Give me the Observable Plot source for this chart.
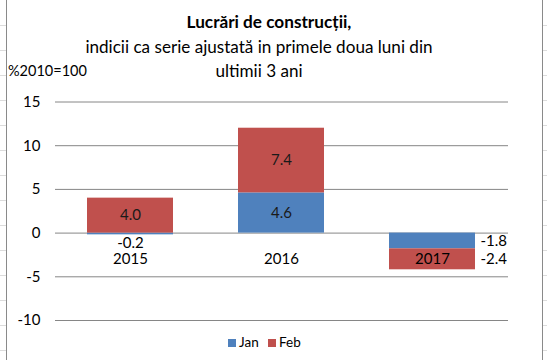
<!DOCTYPE html>
<html><head><meta charset="utf-8">
<script src="https://cdn.jsdelivr.net/npm/d3@7"></script>
<script src="https://cdn.jsdelivr.net/npm/@observablehq/plot@0.6"></script>
<style>
body{margin:0;background:#fff;}
#wrap{position:relative;width:547px;height:360px;overflow:hidden;font-family:Lato,"Open Sans",sans-serif;color:#000;
 background-image:repeating-linear-gradient(to bottom,transparent 0,transparent 24px,#dcdcdc 24px,#dcdcdc 25px);background-position:0 1px;}
#frame{position:absolute;left:6px;top:-5px;width:535px;height:375px;border:1px solid #8a8a8a;background:#fff;}
.t{position:absolute;left:0;width:518px;text-align:center;white-space:nowrap;}
#t1{top:11px;left:10px;font-weight:bold;font-size:17.2px;}
#t2{top:36px;font-size:17.1px;}
#t3{top:60px;font-size:17.1px;}
#unit{position:absolute;left:8px;top:62px;font-size:14.5px;}
#chart{position:absolute;left:0;top:88px;}
#legend{position:absolute;top:334px;left:0;width:547px;font-size:13.5px;}
.li{position:absolute;top:0;white-space:nowrap;}
.sw{display:inline-block;width:8px;height:8px;margin-right:3px;vertical-align:0px;}
</style></head>
<body><div id="wrap"><div id="frame"></div>
<div class="t" id="t1">Lucrări de construcții,</div>
<div class="t" id="t2">indicii ca serie ajustată in primele doua luni din</div>
<div class="t" id="t3">ultimii 3 ani</div>
<div id="unit">%2010=100</div>
<div id="chart"></div>
<div id="legend"></div>
</div>
<script>
const years = ["2015", "2016", "2017"];
const months = ["Jan", "Feb"];
const janValues = [-0.2, 4.6, -1.8];
const febValues = [4.0, 7.4, -2.4];
const yTicks = [-10, -5, 0, 5, 10, 15];
const colors = ["#4F81BD", "#C0504D"];

const data = [];
years.forEach((yr, i) => {
  data.push({year: yr, month: "Jan", value: janValues[i]});
  data.push({year: yr, month: "Feb", value: febValues[i]});
});
const fmt = v => v.toFixed(1);
const inside = d => Math.abs(d.value) >= 3;
const small = d => Math.abs(d.value) < 1;
const right = d => !inside(d) && !small(d);

const stackOpts = {x: "year", y: "value", z: "month", order: null};

const chart = Plot.plot({
  width: 547,
  height: 242,
  marginTop: 13.5,
  marginBottom: 10,
  marginLeft: 55,
  marginRight: 39,
  style: {fontFamily: "Lato, sans-serif", fontSize: "15px", color: "#000", background: "transparent"},
  x: {domain: years, paddingInner: 0.43, paddingOuter: 0.215, axis: null},
  y: {domain: [-10, 15], axis: null},
  color: {domain: months, range: colors},
  marks: [
    Plot.ruleY(yTicks, {stroke: "#868686", strokeWidth: 1}),
    Plot.axisY({ticks: yTicks, tickSize: 0, tickPadding: 15, label: null, fontSize: 15, tickFormat: d => String(d)}),
    Plot.barY(data, Plot.stackY({...stackOpts, fill: "month"})),
    Plot.text(data, Plot.stackY({...stackOpts, filter: inside, text: d => fmt(d.value), fill: "#1a1a1a", fontSize: 15})),
    Plot.text(data, Plot.stackY2({...stackOpts, filter: small, text: d => fmt(d.value), dy: 8, fill: "#000", fontSize: 15})),
    Plot.text(data, Plot.stackY({...stackOpts, filter: right, text: d => fmt(d.value), textAnchor: "start", dx: 48, fill: "#000", fontSize: 15})),
    Plot.text(years, {x: d => d, y: 0, dy: 26, text: d => d, fill: "#000", fontSize: 15})
  ]
});
document.getElementById("chart").appendChild(chart);

const legend = document.getElementById("legend");
const lx = [228, 268];
months.forEach((m, i) => {
  const el = document.createElement("div");
  el.className = "li";
  el.style.left = lx[i] + "px";
  el.innerHTML = `<span class="sw" style="background:${colors[i]}"></span>${m}`;
  legend.appendChild(el);
});
</script>
</body></html>
